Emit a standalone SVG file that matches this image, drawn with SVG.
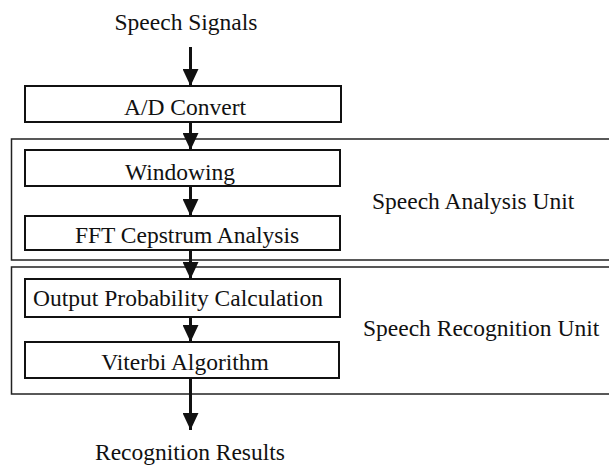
<svg xmlns="http://www.w3.org/2000/svg" width="609" height="465" viewBox="0 0 609 465">
<style>
.box{fill:none;stroke:#111;stroke-width:2}
.unit{fill:none;stroke:#222;stroke-width:1.5}
.t{font-family:"Liberation Serif","Times New Roman",serif;font-size:23.5px;fill:#111}
.m{text-anchor:middle}
.c{stroke:#111;stroke-width:3;fill:none}
</style>
<defs>
<marker id="ah" markerUnits="userSpaceOnUse" markerWidth="18" markerHeight="16" viewBox="0 0 18 16" refX="17" refY="8" orient="auto">
<path d="M0,0 L17,8 L0,16 Z" fill="#111"/>
</marker>
</defs>
<rect width="609" height="465" fill="#fff"/>
<g id="analysis-unit">
<rect class="unit" x="11.5" y="139" width="610" height="121"/>
<text class="t" x="372" y="209">Speech Analysis Unit</text>
</g>
<g id="recognition-unit">
<rect class="unit" x="11.5" y="267" width="610" height="127"/>
<text class="t" x="363" y="336">Speech Recognition Unit</text>
</g>
<g id="input">
<text class="t m" x="186" y="30">Speech Signals</text>
</g>
<g id="ad">
<rect class="box" x="25" y="86" width="316" height="36"/>
<text class="t m" x="185" y="115">A/D Convert</text>
</g>
<g id="windowing">
<rect class="box" x="25" y="150" width="315" height="36"/>
<text class="t m" x="180" y="180">Windowing</text>
</g>
<g id="fft">
<rect class="box" x="25" y="216" width="315" height="34"/>
<text class="t m" x="187" y="243">FFT Cepstrum Analysis</text>
</g>
<g id="opc">
<rect class="box" x="25" y="279" width="315" height="38"/>
<text class="t m" x="178" y="306">Output Probability Calculation</text>
</g>
<g id="viterbi">
<rect class="box" x="25" y="342" width="314" height="36"/>
<text class="t m" x="185" y="370">Viterbi Algorithm</text>
</g>
<g id="output">
<text class="t m" x="190" y="460">Recognition Results</text>
</g>
<g id="connectors">
<line class="c" x1="190.5" y1="47" x2="190.5" y2="86" marker-end="url(#ah)"/>
<line class="c" x1="190.5" y1="123" x2="190.5" y2="150" marker-end="url(#ah)"/>
<line class="c" x1="190.5" y1="187" x2="190.5" y2="216" marker-end="url(#ah)"/>
<line class="c" x1="190.5" y1="251" x2="190.5" y2="279" marker-end="url(#ah)"/>
<line class="c" x1="190.5" y1="318" x2="190.5" y2="342" marker-end="url(#ah)"/>
<line class="c" x1="190.5" y1="379" x2="190.5" y2="430" marker-end="url(#ah)"/>
</g>
</svg>
